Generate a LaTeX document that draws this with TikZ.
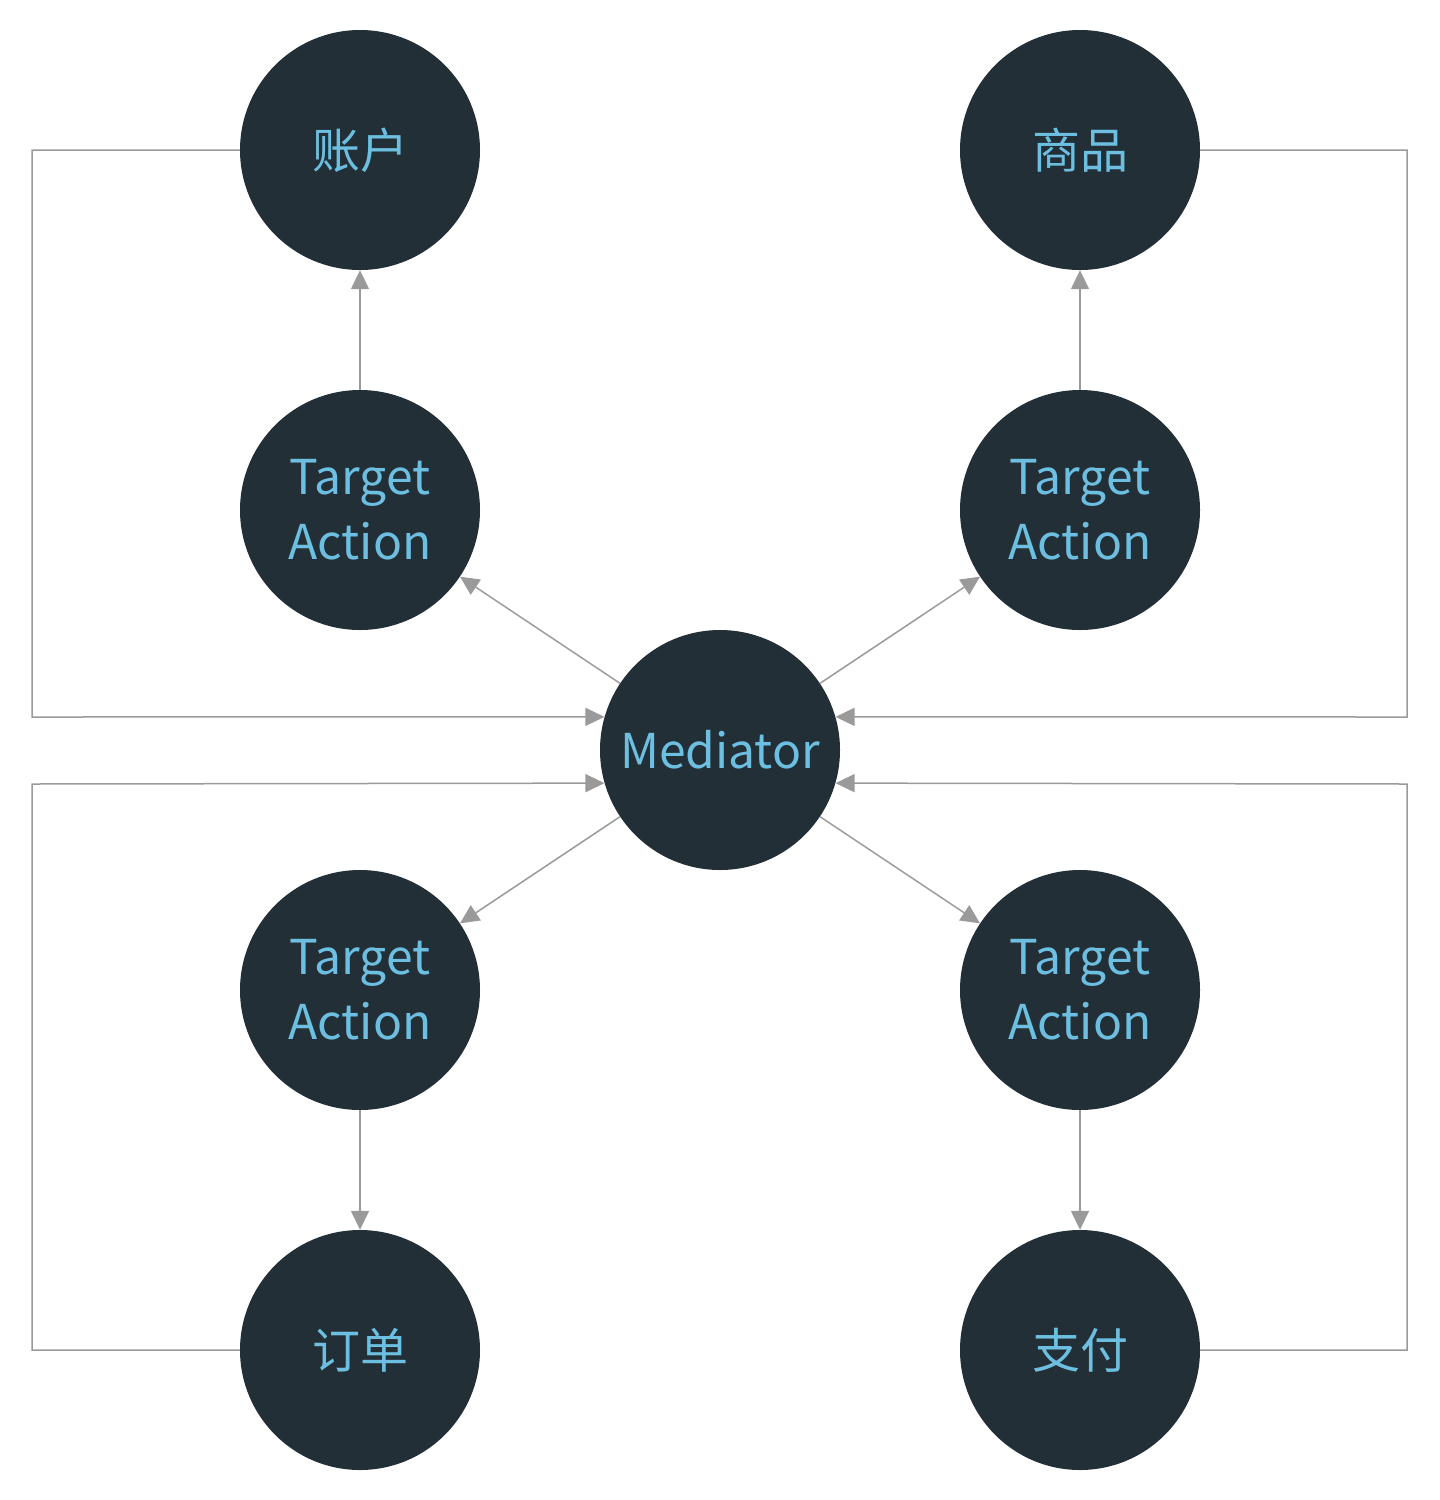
\documentclass[tikz,border=0pt]{standalone}
\usepackage{fontspec}
\setmainfont{Noto Sans CJK SC}
\usepackage{tikz}
\usetikzlibrary{arrows.meta}
\usepackage{xcolor}
\definecolor{modfill}{HTML}{232F36}
\definecolor{modtext}{HTML}{6CBFE0}
\definecolor{linkgray}{HTML}{9A9A9A}

\begin{document}
\begin{tikzpicture}[x=1pt, y=-1pt, >={Triangle[length=19pt,width=18pt]},
  every module/.style={circle, fill=modfill, minimum size=240pt, inner sep=0pt,
    text=modtext, font=\fontsize{48}{65}\selectfont, align=center},
  link/.style={draw=linkgray, line width=1.5pt}]

	\useasboundingbox (0,0) rectangle (1440,1500);

	\node [every module] (mediator) at (720,750) {Mediator};

	\foreach \n/\x/\y in {tl/360/510, tr/1080/510, bl/360/990, br/1080/990}
	  \node [every module] (target-\n) at (\x,\y) {Target\\Action};

	\foreach \n/\l/\x/\y in {tl/账户/360/150, tr/商品/1080/150, bl/订单/360/1350, br/支付/1080/1350}
	  \node [every module] (module-\n) at (\x,\y) {\l};

	\foreach \n in {tl,tr,bl,br}
	  \draw [link,->] (mediator) -- (target-\n);

	\foreach \n in {tl,tr,bl,br}
	  \draw [link,->] (target-\n) -- (module-\n);

	\coordinate (corner-tl) at (32,717);
	\coordinate (corner-tr) at (1407,717);
	\coordinate (corner-bl) at (32,784);
	\coordinate (corner-br) at (1407,784);

	\draw [link,->] (module-tl.west) -| (corner-tl) -- (mediator.164);
	\draw [link,->] (module-tr.east) -| (corner-tr) -- (mediator.16);
	\draw [link,->] (module-bl.west) -| (corner-bl) -- (mediator.196);
	\draw [link,->] (module-br.east) -| (corner-br) -- (mediator.-16);

\end{tikzpicture}
\end{document}
